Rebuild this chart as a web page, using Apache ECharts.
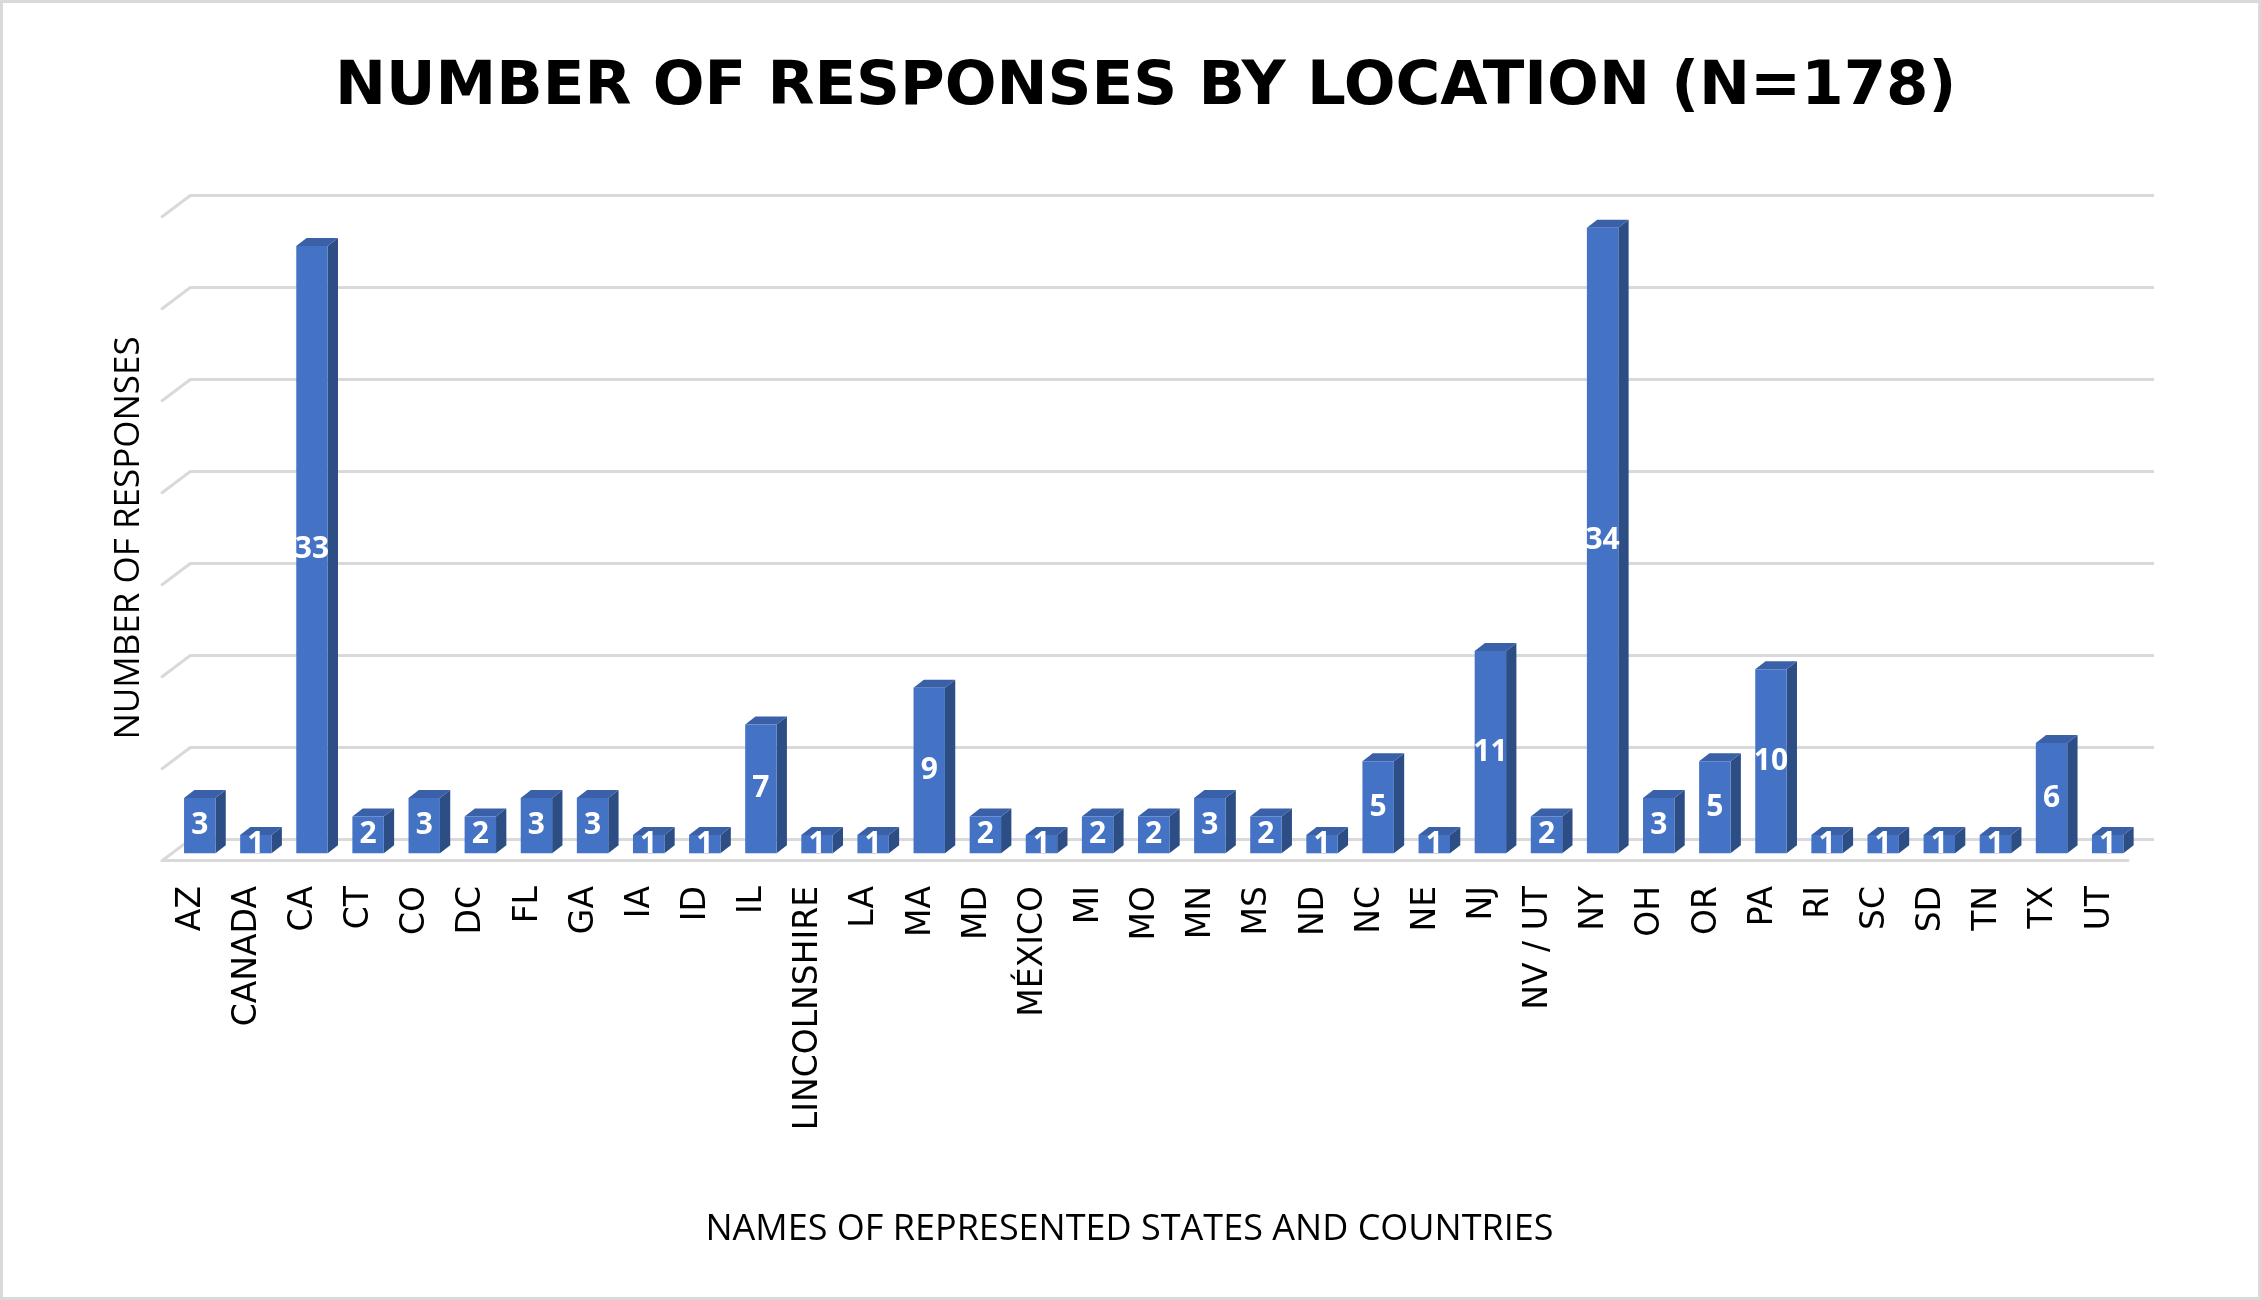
<!DOCTYPE html>
<html>
<head>
<meta charset="utf-8">
<script src="https://cdn.jsdelivr.net/npm/echarts@6/dist/echarts.min.js"></script>
<style>
html, body { margin: 0; padding: 0; background: #fff; }
#main { width: 2261px; height: 1300px; }
</style>
</head>
<body>
<div id="main"></div>
<script>
// values
let states = ["AZ", "CANADA", "CA", "CT", "CO", "DC", "FL", "GA", "IA", "ID", "IL", "LINCOLNSHIRE",
  "LA", "MA", "MD", "MÉXICO", "MI", "MO", "MN", "MS", "ND", "NC", "NE", "NJ", "NV / UT", "NY",
  "OH", "OR", "PA", "RI", "SC", "SD", "TN", "TX", "UT"];
let responses = [3, 1, 33, 2, 3, 2, 3, 3, 1, 1, 7, 1,
  1, 9, 2, 1, 2, 2, 3, 2, 1, 5, 1, 11, 2, 34,
  3, 5, 10, 1, 1, 1, 1, 6, 1];
let yTicks = [0, 5, 10, 15, 20, 25, 30, 35];

let chart = echarts.init(document.getElementById("main"));

// 3d look: front face sits in front of the back wall, with a top and a side face
function renderBar(params, api) {
  let i = api.value(0), v = api.value(1);
  let base = api.coord([i, 0]);
  let top = api.coord([i, v]);
  let slot = api.size([1, 0])[0];
  let w = slot * 0.56;
  let x0 = base[0] - 18.3 - w / 2, x1 = x0 + w;
  let yb = base[1] + 13.6, yt = top[1] + 13.6;
  let dx = 10.3, dy = -8;
  return {
    type: 'group',
    children: [
      { type: 'polygon', shape: { points: [[x1, yb], [x1, yt], [x1 + dx, yt + dy], [x1 + dx, yb + dy]] }, style: { fill: '#2D4D85' } },
      { type: 'polygon', shape: { points: [[x0, yt], [x1, yt], [x1 + dx, yt + dy], [x0 + dx, yt + dy]] }, style: { fill: '#3A60A8' } },
      { type: 'rect', shape: { x: x0, y: yt, width: w, height: yb - yt }, style: { fill: '#4472C4' } },
      { type: 'text', x: (x0 + x1) / 2, y: (yt + yb) / 2,
        style: { text: String(v), fill: '#fff', font: 'bold 30px "Open Sans"', align: 'center', verticalAlign: 'middle' } }
    ]
  };
}

// slanted bits of the gridlines on the left side wall
function renderWallTick(params, api) {
  let p = api.coord([0, api.value(1)]);
  let left = p[0] - api.size([1, 0])[0] / 2;
  return {
    type: 'line',
    shape: { x1: left, y1: p[1], x2: left - 28, y2: p[1] + 21 },
    style: { stroke: '#D9D9D9', lineWidth: 3, lineCap: 'round' }
  };
}

let option = {
  backgroundColor: '#fff',
  animation: false,
  title: {
    text: 'NUMBER OF RESPONSES BY LOCATION (N=178)',
    left: 330,
    top: 53,
    textStyle: { fontFamily: 'DejaVu Sans', fontSize: 61, fontWeight: 'bold', color: '#000' }
  },
  graphic: [{
    type: 'rect',
    shape: { x: 1.5, y: 1.5, width: 2258, height: 1297 },
    style: { fill: null, stroke: '#D9D9D9', lineWidth: 3 },
    silent: true
  }],
  grid: [
    { left: 190, right: 107, top: 195.7, bottom: 460.3 },   // back wall
    { left: 163, right: 133, top: 216, bottom: 440 }        // front edge of the floor
  ],
  xAxis: [
    { type: 'category', gridIndex: 0, data: states, show: false },
    {
      type: 'category', gridIndex: 1, data: states,
      axisLine: { show: true, lineStyle: { color: '#D9D9D9', width: 3 } },
      axisTick: { show: false },
      axisLabel: { interval: 0, rotate: 90, margin: 26, color: '#000', fontFamily: 'DejaVu Sans', fontSize: 33 },
      name: 'NAMES OF REPRESENTED STATES AND COUNTRIES',
      nameLocation: 'middle',
      nameGap: 352,
      nameTextStyle: { color: '#000', fontFamily: 'Open Sans', fontSize: 36, padding: [0, 32, 0, 0] }
    }
  ],
  yAxis: [
    {
      type: 'value', gridIndex: 0, min: 0, max: 35, interval: 5,
      axisLine: { show: false }, axisTick: { show: false }, axisLabel: { show: false },
      splitLine: { lineStyle: { color: '#D9D9D9', width: 3 } }
    },
    {
      type: 'value', gridIndex: 1, min: 0, max: 35,
      axisLine: { show: false }, axisTick: { show: false }, axisLabel: { show: false },
      splitLine: { show: false },
      name: 'NUMBER OF RESPONSES',
      nameLocation: 'middle',
      nameRotate: 90,
      nameGap: 16,
      nameTextStyle: { color: '#000', fontFamily: 'Open Sans', fontSize: 35 }
    }
  ],
  series: [
    {
      type: 'custom',
      xAxisIndex: 0, yAxisIndex: 0,
      data: yTicks.map(function (t) { return [0, t]; }),
      renderItem: renderWallTick,
      silent: true
    },
    {
      type: 'custom',
      name: 'Responses',
      xAxisIndex: 0, yAxisIndex: 0,
      data: responses.map(function (v, i) { return [i, v]; }),
      renderItem: renderBar
    }
  ]
};

chart.setOption(option);
</script>
</body>
</html>
